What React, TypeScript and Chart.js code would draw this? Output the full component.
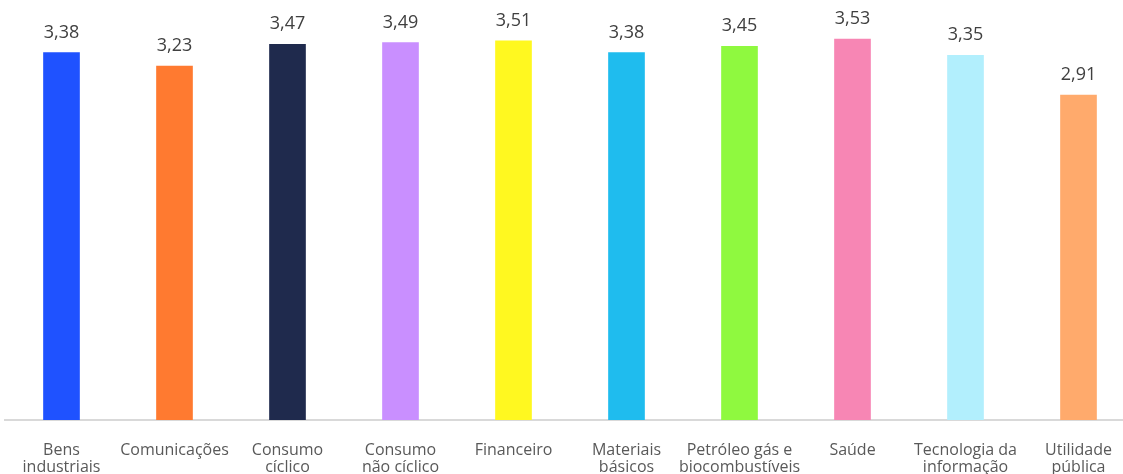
import React, { useEffect, useRef } from "react";
import { Chart, registerables } from "chart.js";

Chart.register(...registerables);

const categories: (string | string[])[] = [
  ["Bens", "industriais"],
  "Comunicações",
  ["Consumo", "cíclico"],
  ["Consumo", "não cíclico"],
  "Financeiro",
  ["Materiais", "básicos"],
  ["Petróleo gás e", "biocombustíveis"],
  "Saúde",
  ["Tecnologia da", "informação"],
  ["Utilidade", "pública"],
];

const values = [3.38, 3.23, 3.47, 3.49, 3.51, 3.38, 3.45, 3.53, 3.35, 2.91];

const barColors = [
  "#1F52FF",
  "#FF7A30",
  "#1F2A4D",
  "#C98FFF",
  "#FFF820",
  "#1FBCEE",
  "#8FF93F",
  "#F786B4",
  "#B2EFFD",
  "#FFAA6C",
];

const yMin = -0.688;
const yMax = 3.962;

const FONT = "'Open Sans', 'Noto Sans', sans-serif";

const valueLabels = {
  id: "valueLabels",
  afterDatasetsDraw(chart: any) {
    const ctx = chart.ctx;
    const meta = chart.getDatasetMeta(0);
    ctx.save();
    ctx.fillStyle = "#404040";
    ctx.font = `18px ${FONT}`;
    ctx.textAlign = "center";
    ctx.textBaseline = "alphabetic";
    meta.data.forEach((el: any, i: number) => {
      const txt = values[i].toFixed(2).replace(".", ",");
      ctx.fillText(txt, el.x, el.y - 15);
    });
    ctx.restore();
  },
};

export default function App() {
  const ref = useRef<HTMLCanvasElement | null>(null);

  useEffect(() => {
    if (!ref.current) return;
    const chart = new Chart(ref.current, {
      type: "bar",
      data: {
        labels: categories,
        datasets: [
          {
            data: values,
            backgroundColor: barColors,
            borderWidth: 0,
            barThickness: 36,
            base: yMin,
          } as any,
        ],
      },
      options: {
        responsive: false,
        devicePixelRatio: 1,
        animation: false,
        layout: { padding: { left: 5, right: 0, top: 0, bottom: 0 } },
        plugins: {
          legend: { display: false },
          tooltip: { enabled: false },
        },
        scales: {
          x: {
            grid: { display: false },
            border: { display: true, color: "#d9d9d9", width: 2 },
            ticks: {
              color: "#595959",
              font: { family: FONT, size: 16, lineHeight: 1.07 },
              padding: 14,
              maxRotation: 0,
              autoSkip: false,
            },
            afterFit: (scale: any) => {
              scale.height = 54;
            },
          },
          y: {
            display: false,
            min: yMin,
            max: yMax,
          },
        },
      },
      plugins: [valueLabels],
    });
    return () => chart.destroy();
  }, []);

  return (
    <div
      style={{
        position: "fixed",
        left: 0,
        top: 0,
        width: 1123,
        height: 474,
        overflow: "hidden",
        background: "#fff",
      }}
    >
      <canvas ref={ref} width={1135} height={474} style={{ width: 1135, height: 474 }} />
    </div>
  );
}
